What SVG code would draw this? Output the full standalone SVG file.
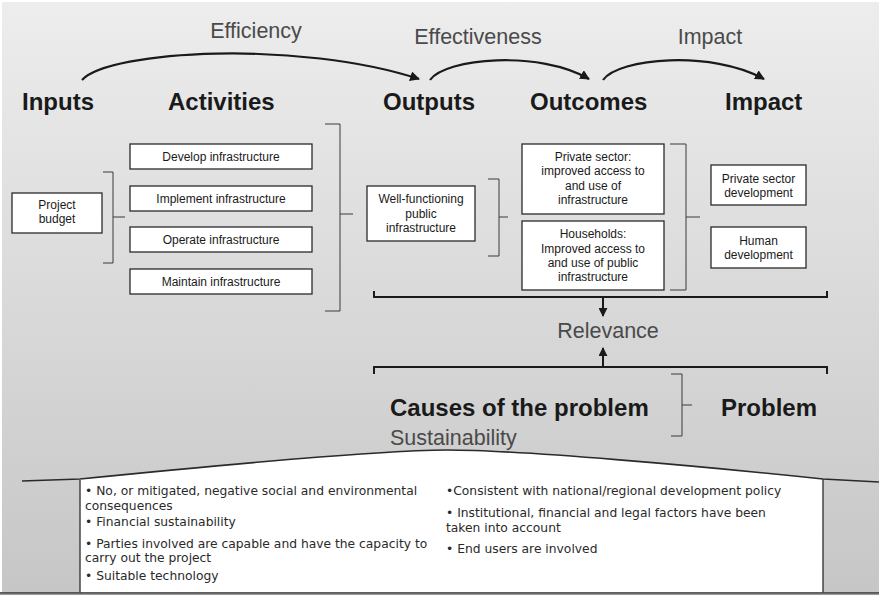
<svg xmlns="http://www.w3.org/2000/svg" width="879" height="595" viewBox="0 0 879 595">
<defs>
<linearGradient id="bg" x1="0" y1="0" x2="0" y2="1">
<stop offset="0" stop-color="#ededed"/>
<stop offset="1" stop-color="#c6c6c6"/>
</linearGradient>
<marker id="ah" viewBox="0 0 10 10" refX="9" refY="5" markerWidth="4.5" markerHeight="4.5" orient="auto" markerUnits="strokeWidth">
<path d="M0,0 L10,5 L0,10 Z" fill="#1a1a1a"/>
</marker>
</defs>
<style>
.lbl{font-family:"Liberation Sans",Arial,sans-serif;font-size:21.5px;fill:#4a4a4a}
.hdr{font-family:"Liberation Sans",Arial,sans-serif;font-size:24px;font-weight:bold;fill:#1a1a1a}
.box rect{fill:#fff;stroke:#2a2a2a;stroke-width:1.3}
.box text{font-family:"Liberation Sans",Arial,sans-serif;font-size:12px;fill:#1a1a1a;text-anchor:middle}
.brk{fill:none;stroke:#3a3a3a;stroke-width:1}
.arc{fill:none;stroke:#1a1a1a;stroke-width:2.2}
.hb{fill:none;stroke:#1a1a1a;stroke-width:2}
.bul{font-family:"DejaVu Sans",Verdana,sans-serif;font-size:12.3px;fill:#2a2a2a}
</style>
<rect x="0" y="0" width="879" height="595" fill="#ffffff"/>
<rect x="2" y="2" width="877" height="593" fill="url(#bg)"/>

<!-- top labels -->
<text class="lbl" x="256" y="38" text-anchor="middle">Efficiency</text>
<text class="lbl" x="478" y="44" text-anchor="middle">Effectiveness</text>
<text class="lbl" x="710" y="44" text-anchor="middle">Impact</text>

<text class="hdr" x="22" y="110">Inputs</text>
<text class="hdr" x="168" y="110">Activities</text>
<text class="hdr" x="383" y="110">Outputs</text>
<text class="hdr" x="530" y="110">Outcomes</text>
<text class="hdr" x="725" y="110">Impact</text>

<!-- nodes -->
<g id="project-budget" class="box"><rect x="12" y="193" width="90" height="40"/><text x="57" y="209">Project</text><text x="57" y="223">budget</text></g>
<g id="develop" class="box"><rect x="130" y="144" width="182" height="25"/><text x="221" y="161">Develop infrastructure</text></g>
<g id="implement" class="box"><rect x="130" y="186" width="182" height="25"/><text x="221" y="203">Implement infrastructure</text></g>
<g id="operate" class="box"><rect x="130" y="227" width="182" height="25"/><text x="221" y="244">Operate infrastructure</text></g>
<g id="maintain" class="box"><rect x="130" y="269" width="182" height="25"/><text x="221" y="286">Maintain infrastructure</text></g>
<g id="well-functioning" class="box"><rect x="367" y="186" width="108" height="55"/><text x="421" y="203">Well-functioning</text><text x="421" y="218">public</text><text x="421" y="232">infrastructure</text></g>
<g id="private-sector" class="box"><rect x="522" y="144" width="142" height="70"/><text x="593" y="161">Private sector:</text><text x="593" y="175">improved access to</text><text x="593" y="190">and use of</text><text x="593" y="204">infrastructure</text></g>
<g id="households" class="box"><rect x="522" y="221" width="142" height="69"/><text x="593" y="238">Households:</text><text x="593" y="253">Improved access to</text><text x="593" y="267">and use of public</text><text x="593" y="281">infrastructure</text></g>
<g id="private-sector-dev" class="box"><rect x="711" y="165" width="95" height="40"/><text x="758.5" y="183">Private sector</text><text x="758.5" y="197">development</text></g>
<g id="human-dev" class="box"><rect x="711" y="227" width="95" height="41"/><text x="758.5" y="245">Human</text><text x="758.5" y="259">development</text></g>

<!-- connectors -->
<g id="connectors">
<path class="arc" d="M82,80 C110,50 300,40 419,79" marker-end="url(#ah)"/>
<path class="arc" d="M430,80 C445,58 540,50 589,79" marker-end="url(#ah)"/>
<path class="arc" d="M603,80 C618,58 712,50 764,79" marker-end="url(#ah)"/>
<path class="brk" d="M103,172 H113 V263 H103 M113,217 H125"/>
<path class="brk" d="M325,124 H340 V311 H325 M340,214 H353"/>
<path class="brk" d="M488,179 H499 V256 H488 M499,217 H508"/>
<path class="brk" d="M670,144 H686 V290 H670 M686,217 H700"/>
<path class="brk" d="M671,374 H682 V436 H671 M682,405 H692"/>
<path class="hb" d="M374,291 V297 H827 V291"/>
<path class="hb" d="M603,297 V316" marker-end="url(#ah)"/>
<path class="hb" d="M374,374 V367 H827 V374"/>
<path class="hb" d="M603,367 V348" marker-end="url(#ah)"/>
</g>

<text class="lbl" x="608" y="338" text-anchor="middle" font-size="21">Relevance</text>
<text class="hdr" x="390" y="416" font-size="23.5">Causes of the problem</text>
<text class="hdr" x="721" y="416" font-size="23.5">Problem</text>
<text class="lbl" x="390" y="445" font-size="19">Sustainability</text>

<!-- sustainability house -->
<g id="sustainability">
<path d="M80,593 V479 C200,467 380,450 447,450 C520,450 700,466 823,479 V593 Z" fill="#ffffff"/>
<path d="M22,481 L80,479 C200,467 380,450 447,450 C520,450 700,466 823,479 L879,482" fill="none" stroke="#2a2a2a" stroke-width="1.6"/>
<path d="M80,480 V593 M823,479 V593" fill="none" stroke="#3a3a3a" stroke-width="1.4"/>
<text class="bul" x="85" y="495">• No, or mitigated, negative social and environmental</text>
<text class="bul" x="85" y="510">consequences</text>
<text class="bul" x="85" y="526">• Financial sustainability</text>
<text class="bul" x="85" y="548">• Parties involved are capable and have the capacity to</text>
<text class="bul" x="85" y="562">carry out the project</text>
<text class="bul" x="85" y="580">• Suitable technology</text>
<text class="bul" x="446" y="495">•Consistent with national/regional development policy</text>
<text class="bul" x="446" y="517">• Institutional, financial and legal factors have been</text>
<text class="bul" x="446" y="532">taken into account</text>
<text class="bul" x="446" y="553">• End users are involved</text>
</g>
<rect x="0" y="592.5" width="879" height="2.5" fill="#9a9a9a"/>
<line x1="0" y1="592.8" x2="879" y2="592.8" stroke="#3a3a3a" stroke-width="1.2"/>
</svg>
